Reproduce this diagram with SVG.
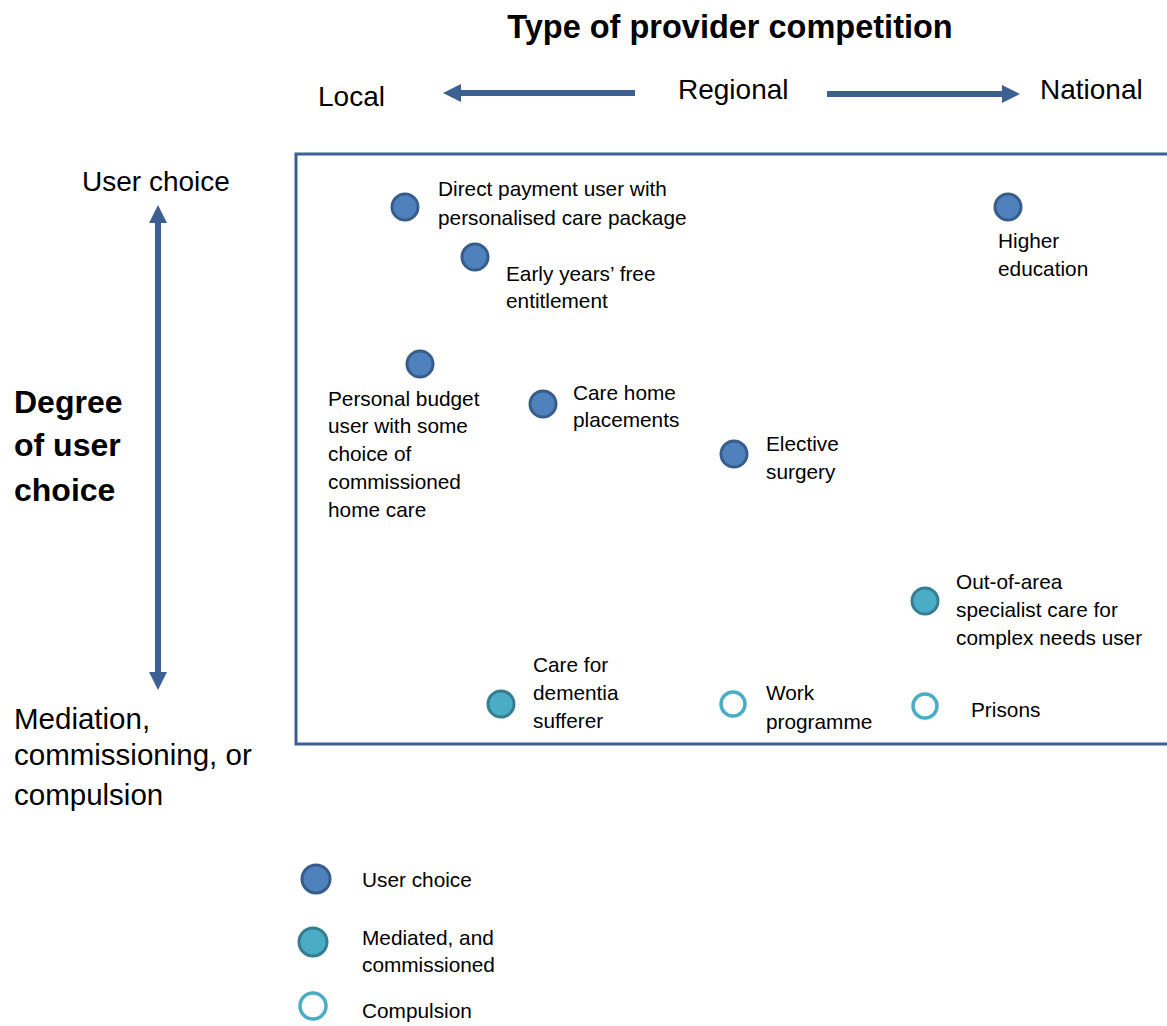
<svg xmlns="http://www.w3.org/2000/svg" width="1167" height="1026" viewBox="0 0 1167 1026">
<defs>
<style>
text{font-family:"Liberation Sans",Arial,sans-serif;fill:#000}
.ax{font-size:28px}
.axl{font-size:29.5px}
.lb{font-size:20.8px}
.uc{fill:#4F81BD;stroke:#385D8A;stroke-width:3}
.md{fill:#4BACC6;stroke:#357D91;stroke-width:3}
.cp{fill:#fff;stroke:#4BACC6;stroke-width:3.5}
.arr{stroke:#3C6091;stroke-width:6;fill:none}
</style>
<marker id="ah" viewBox="0 0 10 10" refX="5" refY="5" markerWidth="3" markerHeight="3" orient="auto-start-reverse" markerUnits="strokeWidth">
<path d="M0,0 L10,5 L0,10 Z" fill="#3C6091"/>
</marker>
</defs>
<rect width="1167" height="1026" fill="#fff"/>
<text x="730" y="38" text-anchor="middle" font-weight="bold" font-size="32.5">Type of provider competition</text>
<text class="ax" x="318" y="106">Local</text>
<text class="ax" x="678" y="99">Regional</text>
<text class="ax" x="1040" y="99">National</text>
<text class="ax" x="82" y="191">User choice</text>
<text x="14" y="413" font-weight="bold" font-size="32">Degree</text>
<text x="14" y="456" font-weight="bold" font-size="32">of user</text>
<text x="14" y="501" font-weight="bold" font-size="32">choice</text>
<text class="axl" x="14" y="729">Mediation,</text>
<text class="axl" x="14" y="765">commissioning, or</text>
<text class="axl" x="14" y="805">compulsion</text>
<g id="connectors">
<line class="arr" x1="635" y1="93" x2="452" y2="93" marker-end="url(#ah)"/>
<line class="arr" x1="827" y1="94" x2="1011" y2="94" marker-end="url(#ah)"/>
<line class="arr" x1="158" y1="214" x2="158" y2="681" marker-start="url(#ah)" marker-end="url(#ah)"/>
</g>
<rect x="296" y="154" width="880" height="590" fill="none" stroke="#3C6091" stroke-width="3"/>
<g id="n-direct"><circle class="uc" cx="405" cy="207" r="13"/><text class="lb" x="438" y="196">Direct payment user with</text><text class="lb" x="438" y="225">personalised care package</text></g>
<g id="n-early"><circle class="uc" cx="475" cy="257" r="13"/><text class="lb" x="506" y="281">Early years’ free</text><text class="lb" x="506" y="308">entitlement</text></g>
<g id="n-higher"><circle class="uc" cx="1008" cy="207" r="13"/><text class="lb" x="998" y="248">Higher</text><text class="lb" x="998" y="276">education</text></g>
<g id="n-personal"><circle class="uc" cx="420" cy="364" r="13"/><text class="lb" x="328" y="406">Personal budget</text><text class="lb" x="328" y="433">user with some</text><text class="lb" x="328" y="461">choice of</text><text class="lb" x="328" y="489">commissioned</text><text class="lb" x="328" y="517">home care</text></g>
<g id="n-carehome"><circle class="uc" cx="543" cy="404" r="13"/><text class="lb" x="573" y="400">Care home</text><text class="lb" x="573" y="427">placements</text></g>
<g id="n-elective"><circle class="uc" cx="734" cy="454" r="13"/><text class="lb" x="766" y="451">Elective</text><text class="lb" x="766" y="479">surgery</text></g>
<g id="n-outofarea"><circle class="md" cx="925" cy="601" r="13"/><text class="lb" x="956" y="589">Out-of-area</text><text class="lb" x="956" y="617">specialist care for</text><text class="lb" x="956" y="645">complex needs user</text></g>
<g id="n-dementia"><circle class="md" cx="501" cy="704" r="13"/><text class="lb" x="533" y="672">Care for</text><text class="lb" x="533" y="700">dementia</text><text class="lb" x="533" y="728">sufferer</text></g>
<g id="n-work"><circle class="cp" cx="733" cy="704" r="12"/><text class="lb" x="766" y="700">Work</text><text class="lb" x="766" y="729">programme</text></g>
<g id="n-prisons"><circle class="cp" cx="925" cy="706" r="12"/><text class="lb" x="971" y="717">Prisons</text></g>
<g id="legend">
<g id="l-user"><circle class="uc" cx="316" cy="879" r="14"/><text class="lb" x="362" y="887">User choice</text></g>
<g id="l-med"><circle class="md" cx="313" cy="942" r="14"/><text class="lb" x="362" y="945">Mediated, and</text><text class="lb" x="362" y="972">commissioned</text></g>
<g id="l-comp"><circle class="cp" cx="313" cy="1006" r="13"/><text class="lb" x="362" y="1018">Compulsion</text></g>
</g>
</svg>
